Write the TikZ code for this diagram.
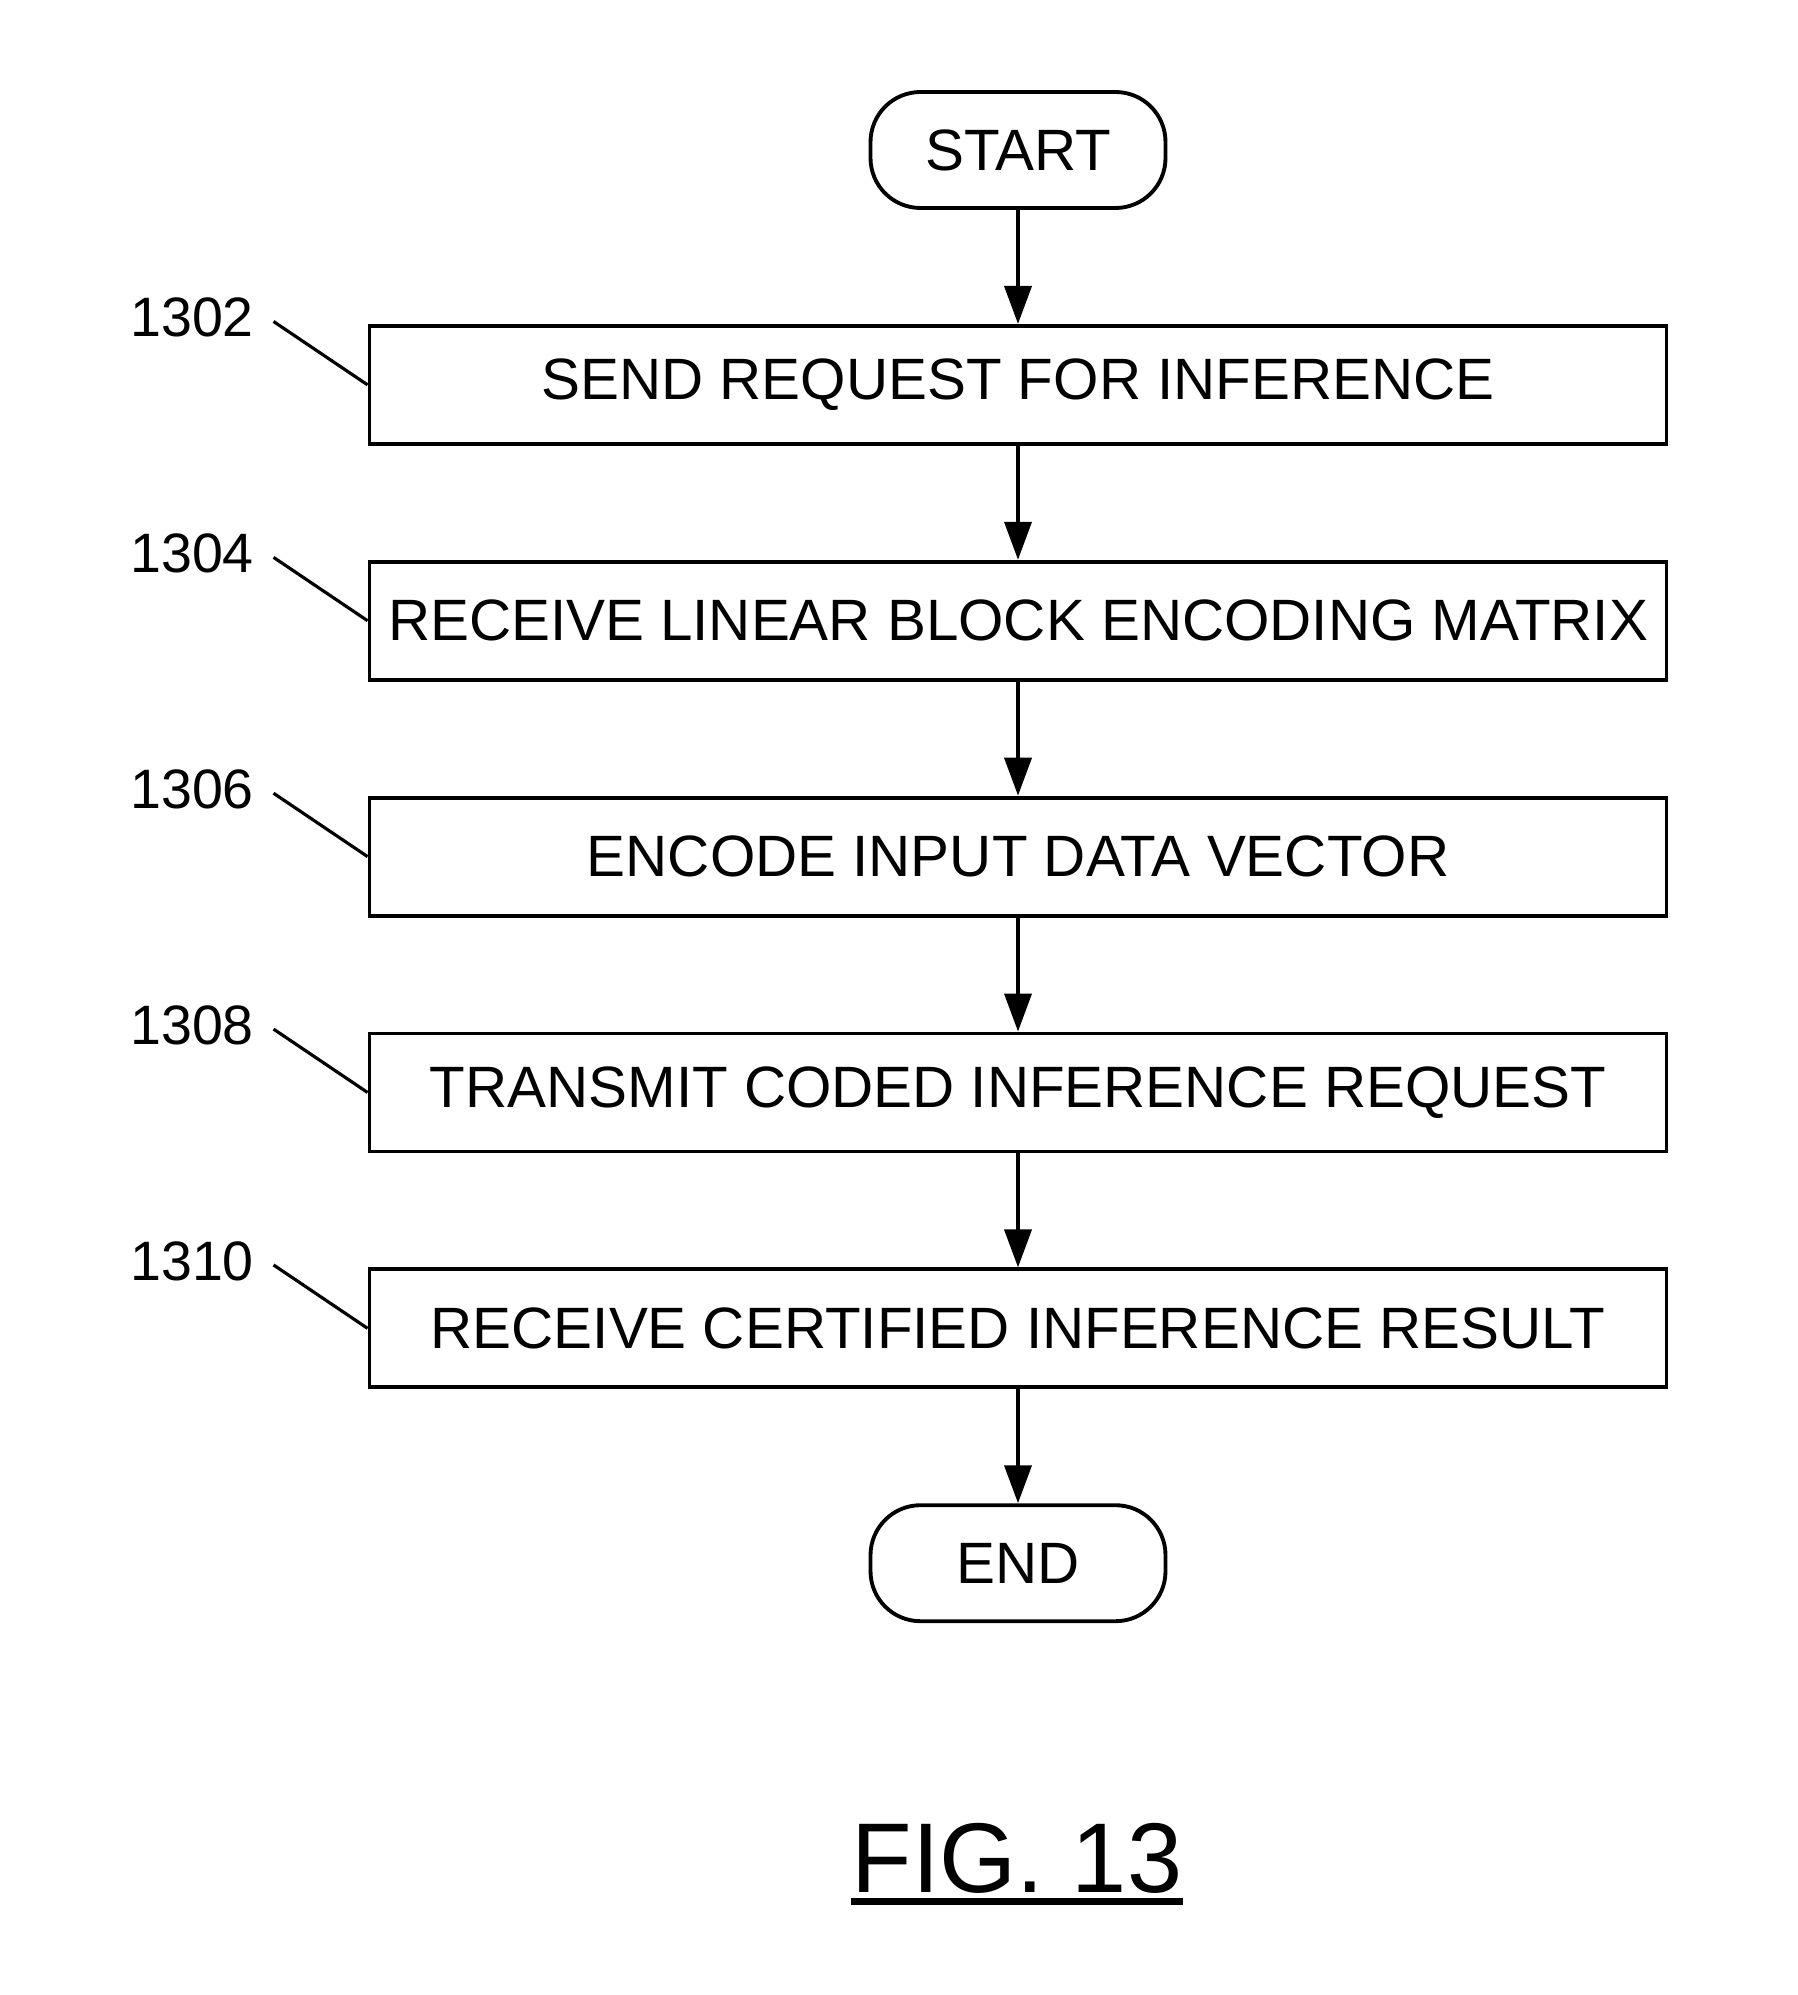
\documentclass[tikz,border=0pt]{standalone}
\usepackage{fontspec}
\setmainfont{Liberation Sans}
\usetikzlibrary{arrows.meta, positioning}
\tikzset{
  term/.style={rectangle, rounded corners=0.5cm, draw, line width=1.1pt, minimum width=2.95cm, minimum height=1.16cm, inner sep=0pt, font=\fontsize{16.6}{20}\selectfont},
  stepbox/.style={rectangle, draw, line width=1.1pt, minimum width=12.97cm, minimum height=1.18cm, inner sep=0pt, font=\fontsize{16.6}{20}\selectfont},
  reflbl/.style={inner sep=0pt, font=\fontsize{15.8}{19}\selectfont},
  figlbl/.style={inner sep=0pt, font=\fontsize{28.2}{32}\selectfont},
  arr/.style={-{Triangle[length=0.38cm, width=0.27cm]}, line width=1.1pt},
  lead/.style={line width=0.9pt},
}
\begin{document}
\begin{tikzpicture}[node distance=1.14cm]
  \useasboundingbox (0,0) rectangle (17.97,-19.95);
  \node[term] (start) at (10.18,-1.50) {START};
  \node[stepbox, below=of start] (s1302) {SEND REQUEST FOR INFERENCE};
  \node[stepbox, below=of s1302] (s1304) {RECEIVE LINEAR BLOCK ENCODING MATRIX};
  \node[stepbox, below=of s1304] (s1306) {ENCODE INPUT DATA VECTOR};
  \node[stepbox, below=of s1306] (s1308) {TRANSMIT CODED INFERENCE REQUEST};
  \node[stepbox, below=of s1308] (s1310) {RECEIVE CERTIFIED INFERENCE RESULT};
  \node[term, below=of s1310] (end) {END};
  % reference numerals
  \node[reflbl, above left=0.47cm and 1.13cm of s1302.west] (l1302) {1302};
  \node[reflbl, above left=0.47cm and 1.13cm of s1304.west] (l1304) {1304};
  \node[reflbl, above left=0.47cm and 1.13cm of s1306.west] (l1306) {1306};
  \node[reflbl, above left=0.47cm and 1.13cm of s1308.west] (l1308) {1308};
  \node[reflbl, above left=0.47cm and 1.13cm of s1310.west] (l1310) {1310};
  \draw[lead] ([xshift=0.19cm,yshift=-0.04cm]l1302.east) -- (s1302.west);
  \draw[lead] ([xshift=0.19cm,yshift=-0.04cm]l1304.east) -- (s1304.west);
  \draw[lead] ([xshift=0.19cm,yshift=-0.04cm]l1306.east) -- (s1306.west);
  \draw[lead] ([xshift=0.19cm,yshift=-0.04cm]l1308.east) -- (s1308.west);
  \draw[lead] ([xshift=0.19cm,yshift=-0.04cm]l1310.east) -- (s1310.west);
  % flow
  \draw[arr] (start) -- (s1302);
  \draw[arr] (s1302) -- (s1304);
  \draw[arr] (s1304) -- (s1306);
  \draw[arr] (s1306) -- (s1308);
  \draw[arr] (s1308) -- (s1310);
  \draw[arr] (s1310) -- (end);
  % figure caption
  \node[figlbl, anchor=base] (fig) at (10.17,-18.92) {FIG. 13};
  \draw[line width=2.1pt] ([yshift=-0.08cm]fig.south west) -- ([yshift=-0.08cm]fig.south east);
\end{tikzpicture}
\end{document}
